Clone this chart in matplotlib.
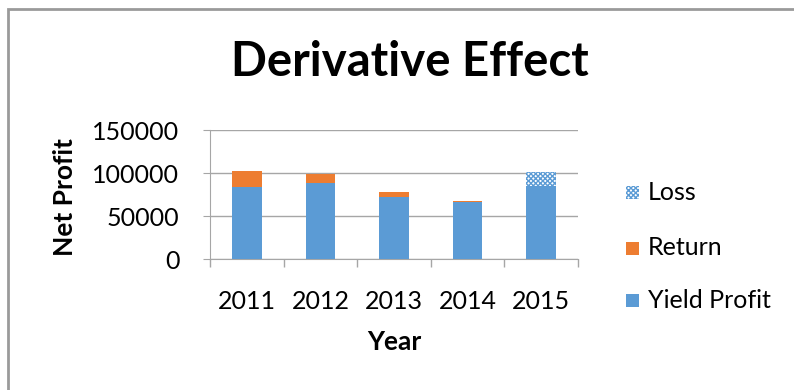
import matplotlib.pyplot as plt
from matplotlib.patches import Rectangle

# Data
years = ['2011', '2012', '2013', '2014', '2015']
yield_profit = [84000, 88000, 72500, 66000, 85000]
return_vals = [18000, 10500, 5500, 2000, 0]
loss_vals = [0, 0, 0, 0, 16000]
legend_labels = ['Loss', 'Return', 'Yield Profit']

blue = '#5B9BD5'
orange = '#ED7D31'
grey = '#A6A6A6'

plt.rcParams['font.family'] = ['Lato', 'DejaVu Sans']
plt.rcParams['hatch.linewidth'] = 1.0
plt.rcParams['hatch.color'] = blue

W, H = 794, 390
fig = plt.figure(figsize=(W / 100, H / 100), dpi=100)
ax = fig.add_axes([210 / W, 1 - 259.3 / H, (578 - 210) / W, (259.3 - 130) / H])

x = range(len(years))
w = 0.4
ax.bar(x, yield_profit, w, color=blue, zorder=3)
ax.bar(x, return_vals, w, bottom=yield_profit, color=orange, zorder=3)
tops = [a + b for a, b in zip(yield_profit, return_vals)]
ax.bar(x, loss_vals, w, bottom=tops, color='white', edgecolor=blue,
       hatch='xxxxxxx', linewidth=0, zorder=3)

ax.set_xlim(-0.5, 4.5)
ax.set_ylim(0, 150000)
ax.set_yticks([0, 50000, 100000, 150000])
ax.set_yticklabels(['0', '50000', '100000', '150000'])
ax.set_xticks(list(x))
ax.set_xticklabels(years)
ax.set_xticks([-0.5, 0.5, 1.5, 2.5, 3.5, 4.5], minor=True)
ax.tick_params(axis='x', which='major', length=0, labelsize=18, pad=22)
ax.tick_params(axis='x', which='minor', length=6, color=grey, width=1)
ax.tick_params(axis='y', length=5, color=grey, labelsize=18, pad=17)
ax.grid(axis='y', color=grey, linewidth=1, zorder=0)
for s in ['top', 'right']:
    ax.spines[s].set_visible(False)
ax.spines['left'].set_color(grey)
ax.spines['bottom'].set_color(grey)

fig.text(410 / W, 1 - 62 / H, 'Derivative Effect', ha='center', va='center',
         fontsize=34, fontweight='bold')
fig.text(394 / W, 1 - 342 / H, 'Year', ha='center', va='center',
         fontsize=19, fontweight='bold')
fig.text(65 / W, 1 - 197 / H, 'Net Profit', ha='center', va='center',
         rotation=90, fontsize=19, fontweight='bold')

# legend, built by hand
legend_y = [193, 248, 300]
legend_style = [dict(facecolor='white', edgecolor=blue, hatch='xxxxxxx', linewidth=0),
                dict(facecolor=orange, linewidth=0),
                dict(facecolor=blue, linewidth=0)]
for label, yy, st in zip(legend_labels, legend_y, legend_style):
    fig.patches.append(Rectangle((626 / W, 1 - (yy + 6.5) / H), 13 / W, 13 / H,
                                 transform=fig.transFigure, **st))
    fig.text(648 / W, 1 - yy / H, label, ha='left', va='center', fontsize=18)

# outer frame
fig.patches.append(Rectangle((8 / W, -0.1), 2, 1 - 9 / H + 0.1,
                             transform=fig.transFigure, fill=False,
                             edgecolor='#9A9A9A', linewidth=2))

fig.savefig('out.png', dpi=100)
